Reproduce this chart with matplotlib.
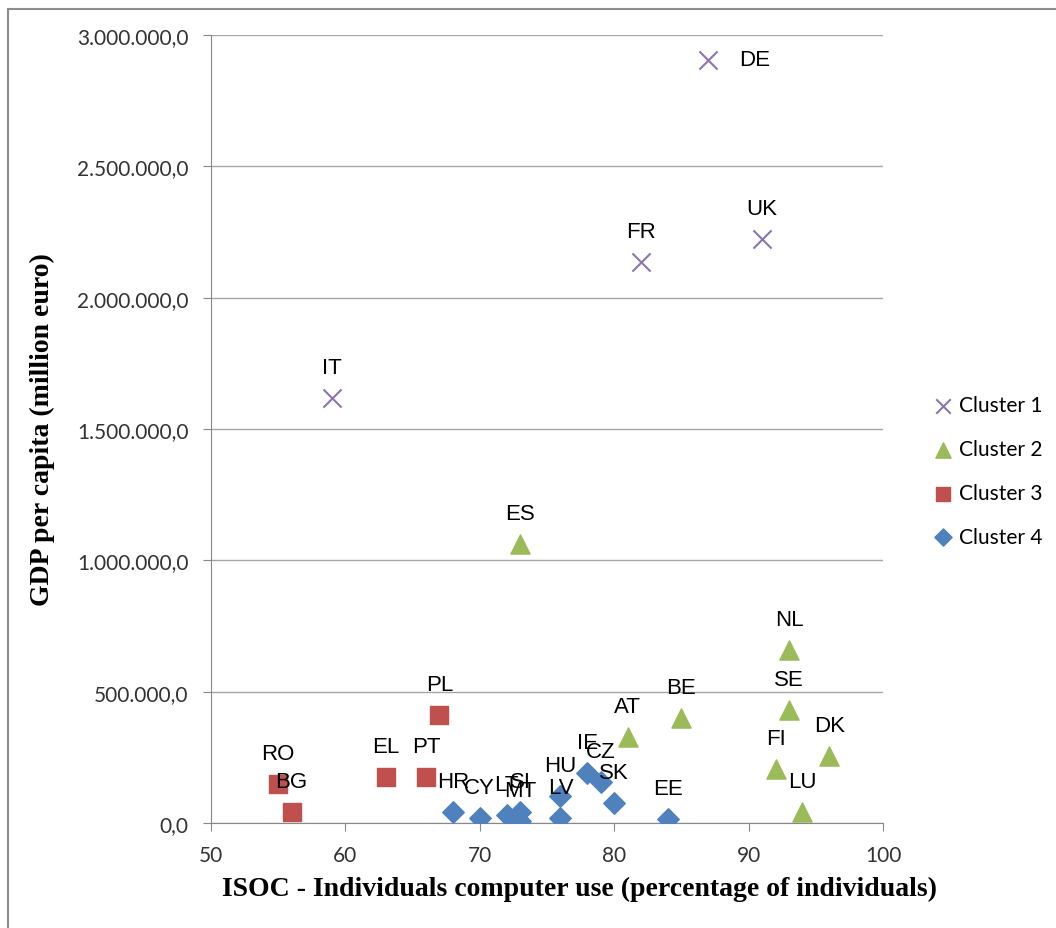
import matplotlib.pyplot as plt
from matplotlib.patches import Rectangle
from matplotlib.ticker import FuncFormatter, MultipleLocator

# cluster data: computer use (%) vs GDP (million euro)
c1_names = ["IT", "FR", "DE", "UK"]
c1_x = [59, 82, 87, 91]
c1_y = [1618000, 2136000, 2905000, 2223000]

c2_names = ["ES", "AT", "BE", "NL", "SE", "FI", "DK", "LU"]
c2_x = [73, 81, 85, 93, 93, 92, 96, 94]
c2_y = [1062000, 327000, 400000, 659000, 430000, 206000, 255000, 42000]

c3_names = ["RO", "BG", "EL", "PT", "PL"]
c3_x = [55, 56, 63, 66, 67]
c3_y = [148000, 42000, 175000, 175000, 411000]

c4_names = ["HR", "CY", "LT", "SI", "MT", "LV", "HU", "IE", "CZ", "SK", "EE"]
c4_x = [68, 70, 72, 73, 73, 76, 76, 78, 79, 80, 84]
c4_y = [42000, 19000, 30000, 42000, 8000, 20000, 103000, 190000, 156000, 76000, 15000]

fig = plt.figure(figsize=(10.56, 9.29), dpi=100)
ax = fig.add_axes([0.1998, 0.1130, 0.6364, 0.8482])

ax.scatter(c1_x, c1_y, marker="x", s=170, color="#8D74B0", linewidths=1.5,
           label="Cluster 1", zorder=3)
ax.scatter(c2_x, c2_y, marker="^", s=190, color="#9BBB59", label="Cluster 2", zorder=3)
ax.scatter(c3_x, c3_y, marker="s", s=170, color="#C0504D", label="Cluster 3", zorder=3)
ax.scatter(c4_x, c4_y, marker="D", s=120, color="#4F81BD", label="Cluster 4", zorder=3)

lab_font = dict(family="Liberation Sans", fontsize=16, color="black")
for names, xs, ys in [(c1_names, c1_x, c1_y), (c2_names, c2_x, c2_y),
                      (c3_names, c3_x, c3_y), (c4_names, c4_x, c4_y)]:
    for n, x, y in zip(names, xs, ys):
        if n == "DE":
            ax.annotate(n, (x, y), xytext=(22, 0), textcoords="offset points",
                        ha="left", va="center", **lab_font)
        else:
            ax.annotate(n, (x, y), xytext=(0, 22), textcoords="offset points",
                        ha="center", va="center", **lab_font)

ax.set_xlim(50, 100)
ax.set_ylim(0, 3000000)
ax.xaxis.set_major_locator(MultipleLocator(10))
ax.yaxis.set_major_locator(MultipleLocator(500000))
ax.yaxis.set_major_formatter(FuncFormatter(
    lambda v, p: "{:,.1f}".format(v).replace(",", "X").replace(".", ",").replace("X", ".")))

ax.grid(axis="y", color="#A6A6A6", linewidth=1)
ax.set_axisbelow(True)
for s in ["top", "right"]:
    ax.spines[s].set_visible(False)
for s in ["left", "bottom"]:
    ax.spines[s].set_color("#888888")
ax.tick_params(length=6, color="#888888", pad=10, labelsize=15, labelcolor="#333333")
for t in ax.get_xticklabels() + ax.get_yticklabels():
    t.set_family("Lato")

ax.set_xlabel("ISOC - Individuals computer use (percentage of individuals)",
              family="Liberation Serif", fontweight="bold", fontsize=20, va="center")
ax.set_ylabel("GDP per capita (million euro)",
              family="Liberation Serif", fontweight="bold", fontsize=20, va="center")
ax.xaxis.set_label_coords(0.548, -0.0825)
ax.yaxis.set_label_coords(-0.2515, 0.5)

fig.legend(loc="center left", bbox_to_anchor=(0.867, 0.4919), frameon=False,
           prop={"family": "Lato", "size": 15}, handlelength=0.8, handletextpad=0.4,
           labelspacing=1.15, markerscale=0.8)

fig.patches.append(Rectangle((8 / 1056, -0.1), 1.2, (929 - 10) / 929 + 0.1,
                             transform=fig.transFigure, fill=False,
                             edgecolor="#8C8C8C", linewidth=1.5))

fig.savefig("out.png", dpi=100)
